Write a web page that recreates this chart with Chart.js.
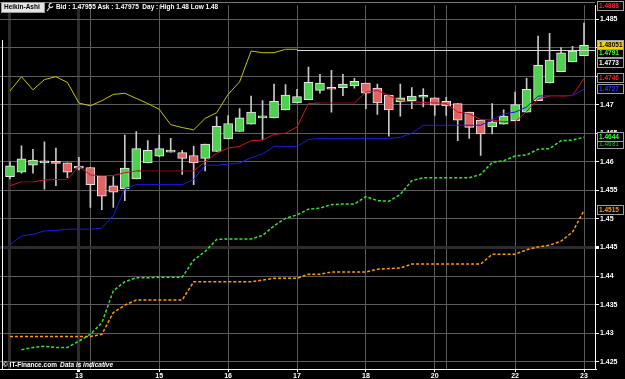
<!DOCTYPE html>
<html>
<head>
<meta charset="utf-8">
<script src="https://cdn.jsdelivr.net/npm/chart.js@4.4.1/dist/chart.umd.min.js"></script>
<style>
  html, body { margin: 0; padding: 0; background: #000; }
  #wrap { width: 625px; height: 379px; }
</style>
</head>
<body>
<div id="wrap"><canvas id="chart"></canvas></div>
<script>
// ---- data (candle index 0..50) ----
const haOpen  = [1.4574,1.4582,1.4594,1.4598,1.4601,1.4598,1.4592,1.4590,1.4575,1.4558,1.4553,1.4570,1.4598,1.4610,1.4617,1.4616,1.4611,1.4606,1.4618,1.4640,1.4653,1.4666,1.4677,1.4677,1.4691,1.4703,1.4709,1.4725,1.4730,1.4730,1.4733,1.4738,1.4729,1.4717,1.4705,1.4707,1.4713,1.4712,1.4706,1.4702,1.4687,1.4673,1.4661,1.4666,1.4672,1.4687,1.4707,1.4738,1.4758,1.4775,1.4786];
const haClose = [1.4593,1.4605,1.4603,1.4601,1.4597,1.4582,1.4589,1.4560,1.4540,1.4547,1.4589,1.4623,1.4620,1.4623,1.4619,1.4606,1.4598,1.4631,1.4662,1.4667,1.4677,1.4687,1.4680,1.4706,1.4717,1.4714,1.4739,1.4738,1.4727,1.4736,1.4741,1.4720,1.4703,1.4691,1.4712,1.4715,1.4715,1.4699,1.4698,1.4673,1.4660,1.4649,1.4670,1.4680,1.4700,1.4727,1.4769,1.4778,1.4791,1.4794,1.4804];
const haHigh  = [1.4600,1.4628,1.4622,1.4635,1.4624,1.4598,1.4608,1.4590,1.4575,1.4574,1.4647,1.4653,1.4637,1.4647,1.4641,1.4620,1.4627,1.4631,1.4679,1.4681,1.4693,1.4715,1.4707,1.4736,1.4735,1.4727,1.4766,1.4753,1.4760,1.4753,1.4746,1.4738,1.4736,1.4717,1.4736,1.4730,1.4728,1.4712,1.4713,1.4702,1.4687,1.4673,1.4702,1.4691,1.4722,1.4746,1.4820,1.4825,1.4800,1.4802,1.4843];
const haLow   = [1.4570,1.4580,1.4580,1.4552,1.4558,1.4572,1.4586,1.4520,1.4516,1.4520,1.4532,1.4570,1.4598,1.4609,1.4617,1.4578,1.4560,1.4584,1.4618,1.4640,1.4653,1.4666,1.4639,1.4677,1.4691,1.4703,1.4709,1.4720,1.4687,1.4716,1.4729,1.4693,1.4683,1.4645,1.4680,1.4693,1.4696,1.4681,1.4681,1.4637,1.4641,1.4611,1.4649,1.4666,1.4672,1.4687,1.4707,1.4738,1.4758,1.4775,1.4786];

const redLine    = [1.4558,1.4565,1.4565,1.4568,1.4569,1.4569,1.4592,1.4577,1.4575,1.4576,1.4581,1.4584,1.4584,1.4584,1.4584,1.4584,1.4584,1.4600,1.4615,1.4624,1.4627,1.4637,1.4638,1.4648,1.4650,1.4661,1.4702,1.4703,1.4703,1.4703,1.4703,1.4722,1.4725,1.4716,1.4707,1.4705,1.4704,1.4703,1.4702,1.4687,1.4684,1.4674,1.4673,1.4670,1.4670,1.4688,1.4710,1.4715,1.4715,1.4716,1.4746];
const blueLine   = [1.4455,1.4470,1.4473,1.4479,1.4480,1.4482,1.4482,1.4482,1.4484,1.4506,1.4553,1.4560,1.4560,1.4560,1.4560,1.4560,1.4569,1.4594,1.4594,1.4596,1.4598,1.4607,1.4614,1.4627,1.4627,1.4627,1.4639,1.4641,1.4641,1.4641,1.4641,1.4641,1.4641,1.4641,1.4643,1.4650,1.4664,1.4664,1.4664,1.4664,1.4664,1.4664,1.4673,1.4684,1.4687,1.4696,1.4715,1.4716,1.4716,1.4716,1.4727];
const yellowLine = [1.4724,1.4749,1.4726,1.4744,1.4749,1.4739,1.4703,1.4698,1.4707,1.4718,1.4720,1.4711,1.4702,1.4692,1.4665,1.4660,1.4656,1.4676,1.4686,1.4718,1.4740,1.4794,1.4791,1.4791,1.4797,1.4797];
const greenLine  = [null,1.4271,1.4275,1.4277,1.4275,1.4275,1.4286,1.4298,1.4318,1.4374,1.4390,1.4397,1.4397,1.4398,1.4398,1.4398,1.4428,1.4443,1.4464,1.4465,1.4465,1.4465,1.4471,1.4488,1.4501,1.4507,1.4517,1.4519,1.4525,1.4526,1.4526,1.4539,1.4532,1.4531,1.4543,1.4567,1.4572,1.4572,1.4572,1.4572,1.4572,1.4578,1.4599,1.4602,1.4610,1.4612,1.4622,1.4623,1.4637,1.4638,1.4643];
const orangeLine = [1.4294,1.4294,1.4294,1.4294,1.4294,1.4294,1.4294,1.4294,1.4298,1.4336,1.4349,1.4358,1.4358,1.4358,1.4358,1.4358,1.4390,1.4390,1.4390,1.4390,1.4390,1.4390,1.4393,1.4396,1.4396,1.4396,1.4403,1.4403,1.4407,1.4407,1.4407,1.4407,1.4412,1.4413,1.4414,1.4421,1.4421,1.4421,1.4421,1.4421,1.4421,1.4421,1.4438,1.4438,1.4438,1.4446,1.4451,1.4454,1.4461,1.4477,1.4515];

const dayTickIndex = [6, 13, 19, 25, 31, 37, 44, 50];
const dayTickText  = ['13', '15', '16', '17', '18', '20', '22', '23'];
const sessionLines = [0, 7, 38];
const yTicks = [1.425, 1.43, 1.435, 1.44, 1.445, 1.45, 1.455, 1.46, 1.465, 1.47, 1.475, 1.48, 1.485];

const bidPrice = 1.47955;
const headerText = 'Bid : 1.47955 Ask : 1.47975  Day : High 1.48 Low 1.48';
const priceLabelValues = [1.4888, 1.4631, 1.4644, 1.4791, 1.48051, 1.4773, 1.4746, 1.4727, 1.4515];
const priceLabelTexts  = ['1.4888', '1.4631', '1.4644', '1.4791', '1.48051', '1.4773', '1.4746', '1.4727', '1.4515'];

// ---- styles ----
const GREEN_BODY = '#4fd14f';
const RED_BODY = '#e06464';
const labelStyles = [
  { fg: '#ff2030', bg: '#000' },
  { fg: '#1f8a2a', bg: '#000' },
  { fg: '#3cff3c', bg: '#000' },
  { fg: '#3cff3c', bg: '#000' },
  { fg: '#000',    bg: '#f5d000' },
  { fg: '#ffffff', bg: '#000' },
  { fg: '#ff2030', bg: '#000' },
  { fg: '#3030ff', bg: '#000' },
  { fg: '#ff9c00', bg: '#000' }
];
const FONT = 'Liberation Sans, Arial, sans-serif';

const idx = haOpen.map((_, i) => i);
const toXY = arr => arr.map((v, i) => ({ x: i, y: v }));

const bodies = idx.map(i => ({ x: i, y: [haOpen[i], haClose[i]] }));
const wicks = idx.map(i => ({ x: i, y: [haLow[i], haHigh[i]] }));
const bodyColors = idx.map(i => haClose[i] >= haOpen[i] ? GREEN_BODY : RED_BODY);

const chartBackground = {
  id: 'chartBackground',
  beforeDraw(chart) {
    const ctx = chart.ctx;
    ctx.save();
    ctx.fillStyle = '#000';
    ctx.fillRect(0, 0, chart.width, chart.height);
    ctx.restore();
  }
};

const overlay = {
  id: 'overlay',
  afterDatasetsDraw(chart) {
    const { ctx, chartArea, scales } = chart;
    // bid line
    const yb = Math.round(scales.y.getPixelForValue(bidPrice)) + 0.5;
    ctx.save();
    ctx.strokeStyle = '#d8d8d8';
    ctx.lineWidth = 1;
    ctx.beginPath();
    ctx.moveTo(scales.x.getPixelForValue(yellowLine.length - 1), yb);
    ctx.lineTo(chartArea.right, yb);
    ctx.stroke();
    // left frame
    ctx.strokeStyle = '#ffffff';
    ctx.beginPath();
    ctx.moveTo(2.5, 40);
    ctx.lineTo(2.5, chartArea.bottom);
    ctx.stroke();
    ctx.strokeStyle = '#777';
    ctx.beginPath();
    ctx.moveTo(0, 2.5);
    ctx.lineTo(chartArea.right, 2.5);
    ctx.stroke();
    ctx.restore();
  },
  afterDraw(chart) {
    const { ctx, scales } = chart;
    ctx.save();
    // header
    ctx.fillStyle = '#e4e4e4';
    ctx.fillRect(1, 2, 44, 11);
    ctx.strokeStyle = '#9a9a9a';
    ctx.strokeRect(1.5, 2.5, 43, 10);
    ctx.fillStyle = '#000';
    ctx.font = 'bold 6.5px ' + FONT;
    ctx.textBaseline = 'middle';
    ctx.fillText('Heikin-Ashi', 4, 7.5);
    // wrench icon
    ctx.strokeStyle = '#ddd';
    ctx.lineWidth = 1.2;
    ctx.beginPath();
    ctx.arc(51, 5.5, 2, Math.PI * 0.1, Math.PI * 1.6);
    ctx.moveTo(50, 7);
    ctx.lineTo(47, 11);
    ctx.stroke();
    ctx.fillStyle = '#fff';
    ctx.fillText(headerText, 56, 7.5);

    // footer
    ctx.font = 'bold 6.5px ' + FONT;
    ctx.fillText('\u00a9 IT-Finance.com', 3, 365);
    ctx.font = 'italic bold 6.5px ' + FONT;
    ctx.fillText('Data is indicative', 60, 365);

    // price labels on the right axis
    ctx.font = 'bold 6.5px ' + FONT;
    priceLabelValues.forEach((v, i) => {
      const st = labelStyles[i];
      let y = scales.y.getPixelForValue(v);
      if (y < 5.5) y = 5.5;
      ctx.fillStyle = st.bg;
      ctx.fillRect(597, Math.round(y - 5), 27, 10);
      ctx.strokeStyle = '#a0a0a0';
      ctx.lineWidth = 1;
      ctx.strokeRect(597.5, Math.round(y - 5) + 0.5, 26, 9);
      ctx.fillStyle = st.fg;
      ctx.fillText(priceLabelTexts[i], 599, Math.round(y) + 0.5);
    });
    ctx.restore();
  }
};

const redSegment = ctx => ctx.p0.parsed.y === ctx.p1.parsed.y ? '#86061a' : '#d4102c';
const isBand = v => v === 0 || v === 6;

new Chart(document.getElementById('chart'), {
  type: 'bar',
  data: {
    datasets: [
      { type: 'bar', data: wicks, backgroundColor: '#c8c8c8', barThickness: 1, grouped: false, order: 20 },
      { type: 'bar', data: bodies, backgroundColor: bodyColors, borderColor: '#e8e8e8', borderWidth: 1,
        borderSkipped: false, barThickness: 9, minBarLength: 2, grouped: false, order: 10 },
      { type: 'line', data: toXY(yellowLine), borderColor: '#c6c600', borderWidth: 1, pointRadius: 0, tension: 0, order: 5 },
      { type: 'line', data: toXY(orangeLine), borderColor: '#ff9c00', borderWidth: 1.5, borderDash: [3, 2], pointRadius: 0, tension: 0, order: 4 },
      { type: 'line', data: toXY(greenLine), borderColor: '#2fe82f', borderWidth: 1.5, borderDash: [3, 2], pointRadius: 0, tension: 0, order: 3 },
      { type: 'line', data: toXY(redLine), borderColor: '#d4102c', borderWidth: 1, pointRadius: 0, tension: 0,
        segment: { borderColor: redSegment }, order: 2 },
      { type: 'line', data: toXY(blueLine), borderColor: '#1a1ae0', borderWidth: 1, pointRadius: 0, tension: 0, order: 1 }
    ]
  },
  options: {
    responsive: true,
    maintainAspectRatio: false,
    animation: false,
    layout: { padding: 0 },
    plugins: { legend: { display: false }, tooltip: { enabled: false } },
    scales: {
      x: {
        type: 'linear',
        min: -0.871,
        max: 50.958,
        offset: false,
        afterBuildTicks: axis => {
          axis.ticks = dayTickIndex.concat(sessionLines).sort((a, b) => a - b).map(v => ({ value: v }));
        },
        afterFit: scale => { scale.height = 10; },
        border: { color: '#ffffff', width: 1 },
        grid: {
          offset: false,
          color: c => (c.tick && isBand(c.tick.value)) ? '#2c2c2c' : '#5c5c5c',
          lineWidth: c => (c.tick && isBand(c.tick.value)) ? 3 : 1,
          tickColor: c => (c.tick && dayTickIndex.includes(c.tick.value)) ? '#ffffff' : 'rgba(0,0,0,0)',
          tickLength: 3
        },
        ticks: {
          autoSkip: false,
          maxRotation: 0,
          padding: 0,
          color: '#ffffff',
          font: { family: FONT, size: 7, weight: 'bold' },
          callback: v => {
            const k = dayTickIndex.indexOf(v);
            return k >= 0 ? dayTickText[k] : '';
          }
        }
      },
      y: {
        position: 'right',
        min: 1.42372,
        max: 1.48742,
        afterBuildTicks: axis => { axis.ticks = yTicks.map(v => ({ value: v })); },
        afterFit: scale => { scale.width = 30; },
        border: { color: '#ffffff', width: 1 },
        grid: {
          color: c => (c.tick && Math.abs(c.tick.value - 1.445) < 1e-6) ? '#2c2c2c' : '#5c5c5c',
          lineWidth: c => (c.tick && Math.abs(c.tick.value - 1.445) < 1e-6) ? 3 : 1,
          tickColor: '#ffffff',
          tickLength: 4
        },
        ticks: {
          padding: 1,
          color: '#ffffff',
          font: { family: FONT, size: 7, weight: 'bold' },
          callback: v => String(parseFloat(v.toFixed(3)))
        }
      }
    }
  },
  plugins: [chartBackground, overlay]
});
</script>
</body>
</html>
